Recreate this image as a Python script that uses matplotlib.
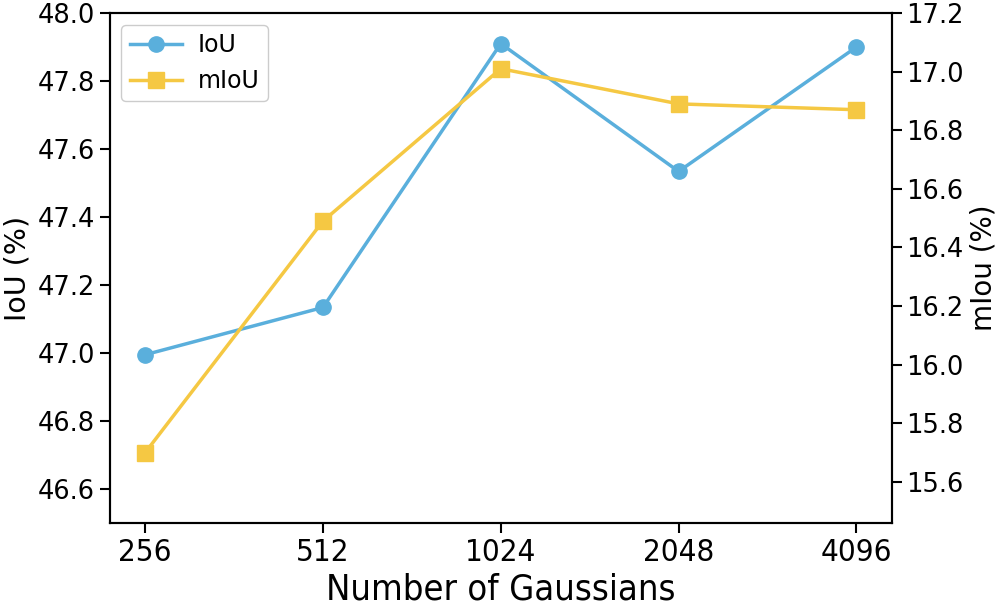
import numpy as np
import matplotlib.pyplot as plt

gaussians = ['256', '512', '1024', '2048', '4096']
iou = [46.995, 47.134, 47.91, 47.534, 47.90]
miou = [15.70, 16.49, 17.01, 16.89, 16.87]

blue = '#5aafdc'
yellow = '#f5c843'

fig, ax1 = plt.subplots(figsize=(9.96, 6.05), dpi=100)
x = np.arange(len(gaussians))
l1, = ax1.plot(x, iou, color=blue, marker='o', markersize=11, linewidth=2.5, label='IoU')
ax2 = ax1.twinx()
l2, = ax2.plot(x, miou, color=yellow, marker='s', markersize=11, linewidth=2.5, label='mIoU')

ax1.set_ylim(46.5, 48.0)
ax2.set_ylim(15.46, 17.2)
ax1.set_yticks(np.arange(46.6, 48.01, 0.2))
ax2.set_yticks(np.arange(15.6, 17.21, 0.2))
ax1.set_xticks(x)
ax1.set_xticklabels(gaussians, fontstretch='condensed', fontsize=22.5)

ax1.tick_params(axis='y', labelsize=18.5)
ax2.tick_params(axis='y', labelsize=18.5)
for ax in (ax1, ax2):
    ax.tick_params(width=1.5, length=7)
    for s in ax.spines.values():
        s.set_linewidth(1.5)

ax1.set_xlabel('Number of Gaussians', fontsize=26, fontstretch='condensed')
ax1.set_ylabel('IoU (%)', fontsize=20.5)
ax2.set_ylabel('mIou (%)', fontsize=20)

ax1.legend(handles=[l1, l2], loc='upper left', fontsize=17, handlelength=2.2,
           handletextpad=0.7, borderpad=0.35, borderaxespad=0.5, framealpha=1)

plt.subplots_adjust(left=0.110, right=0.8956, top=0.9785, bottom=0.1355)
plt.savefig('out.png')
